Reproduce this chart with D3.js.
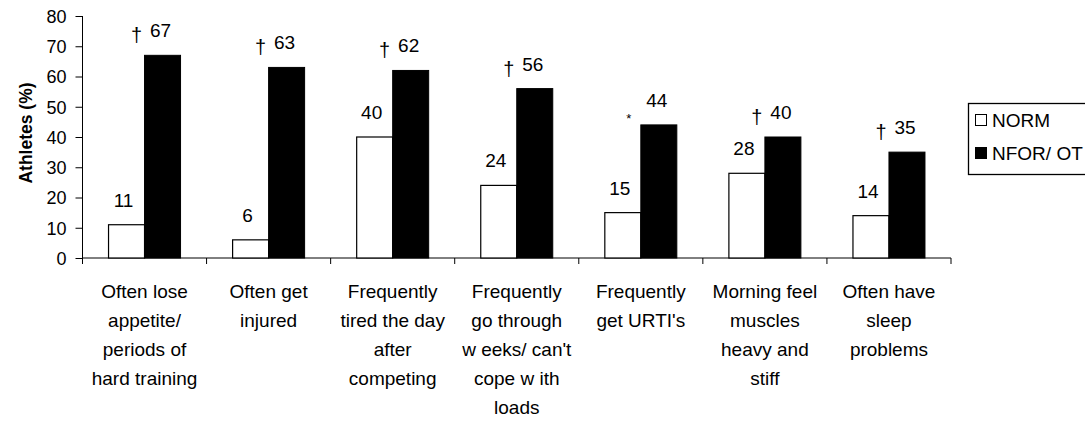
<!DOCTYPE html>
<html><head><meta charset="utf-8">
<script src="https://cdn.jsdelivr.net/npm/d3@7"></script>
<style>body{margin:0;background:#fff}svg{display:block;font-family:"Liberation Sans",Arial,sans-serif}</style>
</head><body><svg id="c" width="1085" height="425"></svg>
<script>
const categories = [
  ["Often lose","appetite/","periods of","hard training"],
  ["Often get","injured"],
  ["Frequently","tired the day","after","competing"],
  ["Frequently","go through","w eeks/ can't","cope w ith","loads"],
  ["Frequently","get URTI's"],
  ["Morning feel","muscles","heavy and","stiff"],
  ["Often have","sleep","problems"]
];
const normValues = [11, 6, 40, 24, 15, 28, 14];
const nforValues = [67, 63, 62, 56, 44, 40, 35];
const markers = ["†","†","†","†","*","†","†"];
const seriesNames = ["NORM", "NFOR/ OT"];
const yTicks = [0,10,20,30,40,50,60,70,80];

const svg = d3.select("#c");
const pL = 82.5, pR = 951, pT = 16, pB = 258;
const x = d3.scaleBand().domain(d3.range(categories.length)).range([pL, pR]).paddingInner(0).paddingOuter(0);
const y = d3.scaleLinear().domain([0, 80]).range([pB, pT]);
const barW = 36;
const fs = 19;

function txt(sel, px, py, str, size, anchor) {
  return sel.append("text").attr("x", px).attr("y", py)
    .attr("text-anchor", anchor || "middle").attr("font-size", size || fs).text(str);
}

// y axis
const yAxis = svg.append("g").attr("transform", `translate(${pL},0)`)
  .call(d3.axisLeft(y).tickValues(yTicks).tickSize(7).tickSizeOuter(0));
yAxis.select(".domain").attr("stroke", "#000").attr("d", `M0,${pT}V${pB}`);
yAxis.selectAll("line").attr("stroke", "#000");
yAxis.selectAll(".tick text").attr("font-size", 18).attr("fill", "#000")
  .attr("font-family", "Liberation Sans, Arial, sans-serif")
  .attr("x", -16).attr("dy", "0.36em");

// x axis line and ticks at boundaries
svg.append("line").attr("x1", pL).attr("x2", pR).attr("y1", pB).attr("y2", pB).attr("stroke", "#000");
const bounds = d3.range(categories.length + 1).map(i => pL + i * x.bandwidth());
svg.selectAll(".xt").data(bounds).enter().append("line")
  .attr("x1", d => d).attr("x2", d => d).attr("y1", pB).attr("y2", pB + 6).attr("stroke", "#000");

// y title
svg.append("text").attr("transform", `translate(32,${(pT + pB) / 2 - 4}) rotate(-90)`)
  .attr("text-anchor", "middle").attr("font-size", 17.5).attr("font-weight", "bold").text("Athletes (%)");

const cx = i => x(i) + x.bandwidth() / 2;

// bars
const g = svg.append("g");
g.selectAll(".bn").data(normValues).enter().append("rect")
  .attr("x", (d, i) => cx(i) - barW).attr("y", d => y(d)).attr("width", barW).attr("height", d => pB - y(d))
  .attr("fill", "#fff").attr("stroke", "#000").attr("stroke-width", 1.2);
g.selectAll(".bf").data(nforValues).enter().append("rect")
  .attr("x", (d, i) => cx(i)).attr("y", d => y(d)).attr("width", barW).attr("height", d => pB - y(d))
  .attr("fill", "#000").attr("stroke", "#000").attr("stroke-width", 1);

// value labels
normValues.forEach((d, i) => txt(g, cx(i) - barW / 2 - 3, y(d) - 18, d));
nforValues.forEach((d, i) => txt(g, cx(i) + barW / 2 - 2, y(d) - 18, d));

// significance markers
markers.forEach((m, i) => {
  if (m === "*") txt(g, cx(i) - 12, y(nforValues[i]) - 2, m, 13);
  else txt(g, cx(i) - 8, y(nforValues[i]) - 13, m, 20);
});

// category labels
categories.forEach((lines, i) => {
  const t = svg.append("text").attr("text-anchor", "middle").attr("font-size", fs);
  lines.forEach((ln, j) => {
    t.append("tspan").attr("x", cx(i)).attr("y", 298 + j * 29).text(ln);
  });
});

// legend
const lg = svg.append("g");
lg.append("rect").attr("x", 968.5).attr("y", 103.5).attr("width", 130).attr("height", 71)
  .attr("fill", "#fff").attr("stroke", "#000").attr("stroke-width", 1.3);
const items = [{name: seriesNames[0], fill: "#fff"}, {name: seriesNames[1], fill: "#000"}];
items.forEach((it, k) => {
  const yy = 120 + k * 33;
  lg.append("rect").attr("x", 975.5).attr("y", yy - 5.5).attr("width", 11).attr("height", 11)
    .attr("fill", it.fill).attr("stroke", "#000");
  txt(lg, 992, yy + 7, it.name, 19, "start");
});
</script></body></html>
